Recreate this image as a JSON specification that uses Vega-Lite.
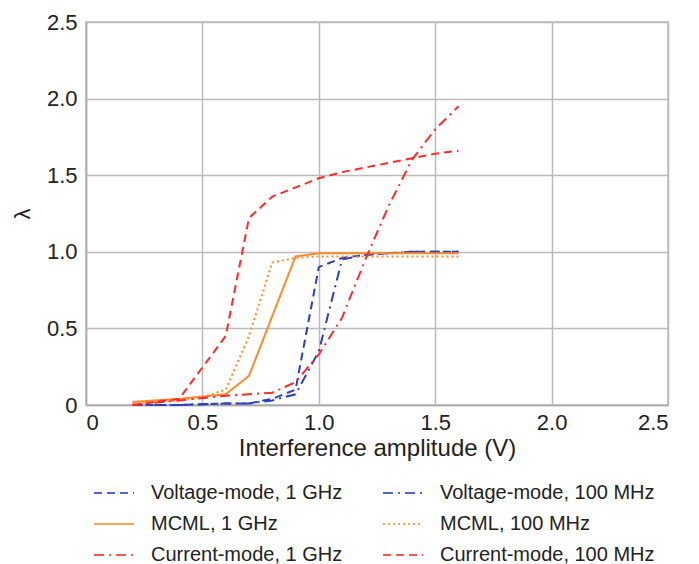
{
  "$schema": "https://vega.github.io/schema/vega-lite/v6.json",
  "width": 582,
  "height": 383,
  "autosize": {"type": "none"},
  "padding": {"left": 86, "top": 22, "right": 31, "bottom": 159},
  "background": "white",
  "config": {
    "font": "Liberation Sans",
    "view": {"stroke": "#bbbbbb", "strokeWidth": 1.5},
    "axis": {
      "labelFont": "Liberation Sans", "titleFont": "Liberation Sans",
      "labelFontSize": 22, "titleFontSize": 24, "labelColor": "#222", "titleColor": "#222",
      "titleFontWeight": "normal", "gridColor": "#bbbbbb", "gridWidth": 1.5,
      "domainColor": "#aaaaaa", "domainWidth": 1.5, "ticks": false
    },
    "legend": {"labelFont": "Liberation Sans", "labelFontSize": 20, "labelColor": "#222"}
  },
  "data": {"values": [
    {"s": "Voltage-mode, 1 GHz", "x": 0.2, "y": 0.0},
    {"s": "Voltage-mode, 1 GHz", "x": 0.4, "y": 0.0},
    {"s": "Voltage-mode, 1 GHz", "x": 0.6, "y": 0.01},
    {"s": "Voltage-mode, 1 GHz", "x": 0.7, "y": 0.01},
    {"s": "Voltage-mode, 1 GHz", "x": 0.8, "y": 0.04},
    {"s": "Voltage-mode, 1 GHz", "x": 0.9, "y": 0.1},
    {"s": "Voltage-mode, 1 GHz", "x": 1.0, "y": 0.9},
    {"s": "Voltage-mode, 1 GHz", "x": 1.1, "y": 0.96},
    {"s": "Voltage-mode, 1 GHz", "x": 1.2, "y": 0.98},
    {"s": "Voltage-mode, 1 GHz", "x": 1.3, "y": 0.99},
    {"s": "Voltage-mode, 1 GHz", "x": 1.4, "y": 1.0},
    {"s": "Voltage-mode, 1 GHz", "x": 1.5, "y": 1.0},
    {"s": "Voltage-mode, 1 GHz", "x": 1.6, "y": 1.0},
    {"s": "Voltage-mode, 100 MHz", "x": 0.2, "y": 0.0},
    {"s": "Voltage-mode, 100 MHz", "x": 0.4, "y": 0.0},
    {"s": "Voltage-mode, 100 MHz", "x": 0.6, "y": 0.01},
    {"s": "Voltage-mode, 100 MHz", "x": 0.7, "y": 0.01},
    {"s": "Voltage-mode, 100 MHz", "x": 0.8, "y": 0.03},
    {"s": "Voltage-mode, 100 MHz", "x": 0.9, "y": 0.07},
    {"s": "Voltage-mode, 100 MHz", "x": 1.0, "y": 0.35},
    {"s": "Voltage-mode, 100 MHz", "x": 1.1, "y": 0.95},
    {"s": "Voltage-mode, 100 MHz", "x": 1.2, "y": 0.98},
    {"s": "Voltage-mode, 100 MHz", "x": 1.3, "y": 0.99},
    {"s": "Voltage-mode, 100 MHz", "x": 1.4, "y": 1.0},
    {"s": "Voltage-mode, 100 MHz", "x": 1.5, "y": 1.0},
    {"s": "Voltage-mode, 100 MHz", "x": 1.6, "y": 1.0},
    {"s": "MCML, 1 GHz", "x": 0.2, "y": 0.02},
    {"s": "MCML, 1 GHz", "x": 0.4, "y": 0.04},
    {"s": "MCML, 1 GHz", "x": 0.6, "y": 0.07},
    {"s": "MCML, 1 GHz", "x": 0.7, "y": 0.19},
    {"s": "MCML, 1 GHz", "x": 0.9, "y": 0.97},
    {"s": "MCML, 1 GHz", "x": 1.0, "y": 0.99},
    {"s": "MCML, 1 GHz", "x": 1.2, "y": 0.99},
    {"s": "MCML, 1 GHz", "x": 1.4, "y": 0.99},
    {"s": "MCML, 1 GHz", "x": 1.6, "y": 0.99},
    {"s": "MCML, 100 MHz", "x": 0.2, "y": 0.01},
    {"s": "MCML, 100 MHz", "x": 0.4, "y": 0.03},
    {"s": "MCML, 100 MHz", "x": 0.5, "y": 0.05},
    {"s": "MCML, 100 MHz", "x": 0.6, "y": 0.1},
    {"s": "MCML, 100 MHz", "x": 0.7, "y": 0.45},
    {"s": "MCML, 100 MHz", "x": 0.8, "y": 0.93},
    {"s": "MCML, 100 MHz", "x": 0.9, "y": 0.96},
    {"s": "MCML, 100 MHz", "x": 1.0, "y": 0.97},
    {"s": "MCML, 100 MHz", "x": 1.3, "y": 0.97},
    {"s": "MCML, 100 MHz", "x": 1.6, "y": 0.97},
    {"s": "Current-mode, 1 GHz", "x": 0.2, "y": 0.0},
    {"s": "Current-mode, 1 GHz", "x": 0.4, "y": 0.03},
    {"s": "Current-mode, 1 GHz", "x": 0.6, "y": 0.06},
    {"s": "Current-mode, 1 GHz", "x": 0.7, "y": 0.07},
    {"s": "Current-mode, 1 GHz", "x": 0.8, "y": 0.08},
    {"s": "Current-mode, 1 GHz", "x": 0.9, "y": 0.15},
    {"s": "Current-mode, 1 GHz", "x": 1.0, "y": 0.33},
    {"s": "Current-mode, 1 GHz", "x": 1.1, "y": 0.57},
    {"s": "Current-mode, 1 GHz", "x": 1.2, "y": 0.95},
    {"s": "Current-mode, 1 GHz", "x": 1.3, "y": 1.3},
    {"s": "Current-mode, 1 GHz", "x": 1.4, "y": 1.6},
    {"s": "Current-mode, 1 GHz", "x": 1.5, "y": 1.8},
    {"s": "Current-mode, 1 GHz", "x": 1.6, "y": 1.95},
    {"s": "Current-mode, 100 MHz", "x": 0.2, "y": 0.0},
    {"s": "Current-mode, 100 MHz", "x": 0.4, "y": 0.04},
    {"s": "Current-mode, 100 MHz", "x": 0.6, "y": 0.45},
    {"s": "Current-mode, 100 MHz", "x": 0.7, "y": 1.22},
    {"s": "Current-mode, 100 MHz", "x": 0.8, "y": 1.36},
    {"s": "Current-mode, 100 MHz", "x": 0.9, "y": 1.42},
    {"s": "Current-mode, 100 MHz", "x": 1.0, "y": 1.48},
    {"s": "Current-mode, 100 MHz", "x": 1.1, "y": 1.52},
    {"s": "Current-mode, 100 MHz", "x": 1.2, "y": 1.55},
    {"s": "Current-mode, 100 MHz", "x": 1.3, "y": 1.58},
    {"s": "Current-mode, 100 MHz", "x": 1.4, "y": 1.61},
    {"s": "Current-mode, 100 MHz", "x": 1.5, "y": 1.64},
    {"s": "Current-mode, 100 MHz", "x": 1.6, "y": 1.66}
  ]},
  "mark": {"type": "line", "strokeWidth": 2},
  "encoding": {
    "x": {"field": "x", "type": "quantitative", "scale": {"domain": [0, 2.5], "nice": false},
      "axis": {"values": [0, 0.5, 1, 1.5, 2, 2.5], "title": "Interference amplitude (V)",
        "labelExpr": "datum.value == 0 ? '0' : format(datum.value, '.1f')", "labelPadding": 7, "titlePadding": 3}},
    "y": {"field": "y", "type": "quantitative", "scale": {"domain": [0, 2.5], "nice": false},
      "axis": {"values": [0, 0.5, 1, 1.5, 2, 2.5], "title": "λ", "titleAngle": 270, "titleFontSize": 22, "titlePadding": 12,
        "labelExpr": "datum.value == 0 ? '0' : format(datum.value, '.1f')", "labelPadding": 9}},
    "color": {"field": "s", "type": "nominal",
      "scale": {"domain": ["Voltage-mode, 1 GHz", "Voltage-mode, 100 MHz", "MCML, 1 GHz", "MCML, 100 MHz", "Current-mode, 1 GHz", "Current-mode, 100 MHz"],
        "range": ["#2b3fc0", "#2b3fc0", "#ff8a2a", "#ff8a2a", "#ff2a2a", "#ff2a2a"]},
      "legend": {"orient": "none", "legendX": 7, "legendY": 450, "columns": 2, "direction": "horizontal", "title": null,
        "symbolType": "stroke", "symbolSize": 1600, "symbolStrokeWidth": 2, "columnPadding": 36, "rowPadding": 0,
        "labelOffset": 16, "labelLimit": 400, "symbolOpacity": 0.8}},
    "strokeDash": {"field": "s", "type": "nominal",
      "scale": {"domain": ["Voltage-mode, 1 GHz", "Voltage-mode, 100 MHz", "MCML, 1 GHz", "MCML, 100 MHz", "Current-mode, 1 GHz", "Current-mode, 100 MHz"],
        "range": [[8, 5], [10, 5, 2, 5], [1, 0], [2, 3], [10, 5, 2, 5], [8, 5]]},
      "legend": null}
  }
}
